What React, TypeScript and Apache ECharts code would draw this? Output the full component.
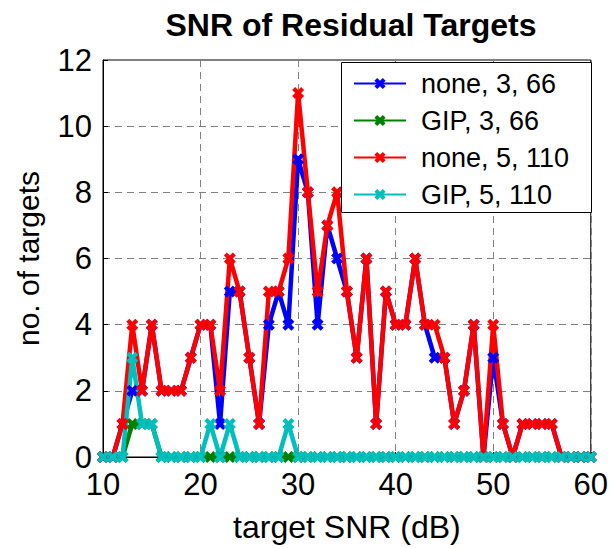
import React, { useEffect, useRef } from 'react';
import * as echarts from 'echarts';

const snr = [10, 11, 12, 13, 14, 15, 16, 17, 18, 19, 20, 21, 22, 23, 24, 25, 26, 27, 28, 29, 30, 31, 32, 33, 34, 35, 36, 37, 38, 39, 40, 41, 42, 43, 44, 45, 46, 47, 48, 49, 50, 51, 52, 53, 54, 55, 56, 57, 58, 59, 60];

const none3 = [0, 0, 1, 2, 2, 4, 2, 2, 2, 3, 4, 4, 1, 5, 5, 3, 1, 4, 5, 4, 9, 8, 4, 7, 6, 5, 3, 6, 1, 5, 4, 4, 6, 4, 3, 3, 1, 2, 4, 0, 3, 1, 0, 1, 1, 1, 1, 0, 0, 0, 0];
const gip3 = [0, 0, 0, 1, 1, 1, 0, 0, 0, 0, 0, 0, 0, 0, 0, 0, 0, 0, 0, 0, 0, 0, 0, 0, 0, 0, 0, 0, 0, 0, 0, 0, 0, 0, 0, 0, 0, 0, 0, 0, 0, 0, 0, 0, 0, 0, 0, 0, 0, 0, 0];
const none5 = [0, 0, 1, 4, 2, 4, 2, 2, 2, 3, 4, 4, 2, 6, 5, 3, 1, 5, 5, 6, 11, 8, 5, 7, 8, 5, 3, 6, 1, 5, 4, 4, 6, 4, 4, 3, 1, 2, 4, 0, 4, 1, 0, 1, 1, 1, 1, 0, 0, 0, 0];
const gip5 = [0, 0, 0, 3, 1, 1, 0, 0, 0, 0, 0, 1, 0, 1, 0, 0, 0, 0, 0, 1, 0, 0, 0, 0, 0, 0, 0, 0, 0, 0, 0, 0, 0, 0, 0, 0, 0, 0, 0, 0, 0, 0, 0, 0, 0, 0, 0, 0, 0, 0, 0];

const seriesNames = ['none, 3, 66', 'GIP, 3, 66', 'none, 5, 110', 'GIP, 5, 110'];
const seriesColors = ['#0000ff', '#008000', '#ff0000', '#00bfbf'];
const seriesValues = [none3, gip3, none5, gip5];

const xTicks = { min: 10, max: 60, interval: 10 };
const yTicks = { min: 0, max: 12, interval: 2 };

const FONT = '"Liberation Sans", Arial, Helvetica, sans-serif';
const X_SYMBOL = 'path://M2.5,0 L5,2.5 L7.5,0 L10,2.5 L7.5,5 L10,7.5 L7.5,10 L5,7.5 L2.5,10 L0,7.5 L2.5,5 L0,2.5 Z';

export default function App() {
  const ref = useRef<HTMLDivElement>(null);

  useEffect(() => {
    if (!ref.current) return;
    const chart = echarts.init(ref.current, null, { renderer: 'svg' });

    const series = seriesNames.map((name, i) => ({
      name,
      type: 'line',
      data: snr.map((x, j) => [x, seriesValues[i][j]]),
      symbol: X_SYMBOL,
      symbolSize: 12,
      showSymbol: true,
      clip: false,
      color: seriesColors[i],
      lineStyle: { width: 4.5, color: seriesColors[i] },
      itemStyle: { color: seriesColors[i] },
      emphasis: { disabled: true },
    }));

    const axisCommon = {
      axisLine: { show: true, lineStyle: { color: '#000', width: 1 } },
      axisTick: { show: true, inside: true, length: 5, lineStyle: { color: '#000' } },
      splitLine: { show: true, lineStyle: { color: '#808080', type: [7, 5], width: 1 } },
    };

    chart.setOption({
      animation: false,
      backgroundColor: '#fff',
      title: {
        text: 'SNR of Residual Targets',
        left: 346,
        textAlign: 'center',
        top: 4,
        textStyle: { fontFamily: FONT, fontSize: 32, fontWeight: 'bold', color: '#000' },
      },
      grid: {
        left: 103,
        right: 19,
        top: 60,
        bottom: 89,
        show: true,
        borderColor: '#000',
        borderWidth: 1,
        backgroundColor: 'transparent',
      },
      xAxis: {
        type: 'value',
        ...xTicks,
        ...axisCommon,
        name: 'target SNR (dB)',
        nameLocation: 'middle',
        nameGap: 54,
        nameTextStyle: { fontFamily: FONT, fontSize: 32, color: '#000' },
        axisLabel: { fontFamily: FONT, fontSize: 31, color: '#000', margin: 15, lineHeight: 24 },
      },
      yAxis: {
        type: 'value',
        ...yTicks,
        ...axisCommon,
        name: 'no. of targets',
        nameLocation: 'middle',
        nameGap: 60,
        nameTextStyle: { fontFamily: FONT, fontSize: 30, color: '#000' },
        axisLabel: { fontFamily: FONT, fontSize: 31, color: '#000', margin: 11, lineHeight: 22 },
      },
      graphic: [
        {
          type: 'rect',
          z: 5,
          shape: { x: 341.5, y: 62.5, width: 250, height: 150 },
          style: { fill: '#fff', stroke: '#000', lineWidth: 1 },
        },
      ],
      legend: {
        orient: 'vertical',
        left: 341,
        top: 62,
        z: 10,
        padding: [8, 10, 8, 12],
        itemGap: 10,
        itemWidth: 52,
        itemHeight: 14,
        data: seriesNames,
        textStyle: { fontFamily: FONT, fontSize: 27, color: '#000', lineHeight: 26, padding: [0, 0, 0, 10] },
        selectedMode: false,
      },
      series,
    });

    return () => chart.dispose();
  }, []);

  return <div ref={ref} style={{ position: 'absolute', left: 0, top: 0, width: 611, height: 548 }} />;
}
